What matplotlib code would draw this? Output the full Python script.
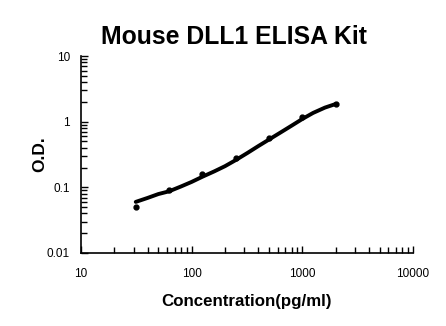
import matplotlib
matplotlib.use("Agg")
import matplotlib.pyplot as plt
from matplotlib.ticker import LogLocator, FixedLocator, NullFormatter

plt.rcParams["font.family"] = ["Liberation Sans", "DejaVu Sans"]

# standard points
conc = [31.25, 62.5, 125, 250, 500, 1000, 2000]
od = [0.051, 0.091, 0.16, 0.28, 0.566, 1.16, 1.87]

# fitted curve
curve_x = [31.25, 40, 50, 62.5, 80, 100, 125, 160, 200, 250, 320, 400, 500,
           640, 800, 1000, 1250, 1600, 2000]
curve_y = [0.060, 0.069, 0.079, 0.087, 0.103, 0.121, 0.145, 0.175, 0.210,
           0.26, 0.335, 0.425, 0.535, 0.69, 0.87, 1.10, 1.36, 1.64, 1.86]

x_ticks = [10, 100, 1000, 10000]
x_labels = ["10", "100", "1000", "10000"]
y_ticks = [0.01, 0.1, 1, 10]
y_labels = ["0.01", "0.1", "1", "10"]

fig = plt.figure(figsize=(4.46, 3.26), dpi=100)
ax = fig.add_axes([0.1816, 0.224, 0.7444, 0.604])

ax.plot(curve_x, curve_y, color="black", linewidth=2.8, solid_capstyle="round")
ax.plot(conc, od, "o", color="black", markersize=3.5)

ax.set_xscale("log")
ax.set_yscale("log")
ax.set_xlim(10, 10000)
ax.set_ylim(0.01, 10)

ax.xaxis.set_major_locator(FixedLocator(x_ticks))
ax.set_xticklabels(x_labels)
ax.yaxis.set_major_locator(FixedLocator(y_ticks))
ax.set_yticklabels(y_labels)
ax.xaxis.set_minor_locator(LogLocator(base=10, subs=range(2, 10)))
ax.yaxis.set_minor_locator(LogLocator(base=10, subs=range(2, 10)))
ax.xaxis.set_minor_formatter(NullFormatter())
ax.yaxis.set_minor_formatter(NullFormatter())

ax.spines["top"].set_visible(False)
ax.spines["right"].set_visible(False)
for s in ["left", "bottom"]:
    ax.spines[s].set_linewidth(1.2)

ax.tick_params(which="both", direction="in", labelsize=8.5, width=1)
ax.tick_params(axis="x", pad=11)
ax.tick_params(axis="y", pad=8)
ax.tick_params(which="major", length=5)
ax.tick_params(which="minor", length=4)

fig.text(0.525, 0.887, "Mouse DLL1 ELISA Kit", fontsize=17.8, fontweight="bold",
         ha="center", va="center")
ax.set_xlabel("Concentration(pg/ml)", fontsize=12.2, fontweight="bold", labelpad=10)
ax.set_ylabel("O.D.", fontsize=12.5, fontweight="bold", labelpad=0)

fig.savefig("out.png", dpi=100)
